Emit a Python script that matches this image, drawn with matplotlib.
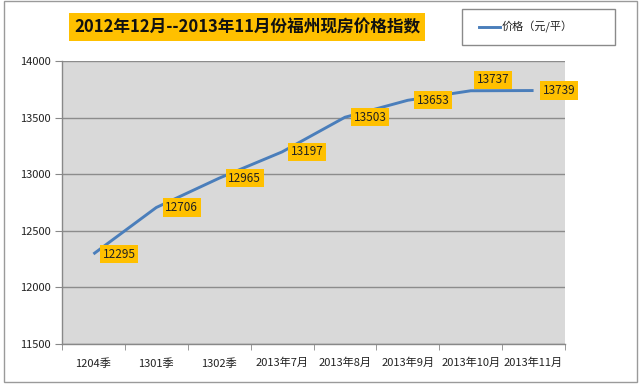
import matplotlib
matplotlib.use("Agg")
import matplotlib.pyplot as plt
from matplotlib.patches import Rectangle
from matplotlib.lines import Line2D

plt.rcParams['font.family'] = ['Noto Sans CJK SC', 'DejaVu Sans']

categories = ['1204季', '1301季', '1302季', '2013年7月', '2013年8月', '2013年9月', '2013年10月', '2013年11月']
values = [12295, 12706, 12965, 13197, 13503, 13653, 13737, 13739]
yticks = [11500, 12000, 12500, 13000, 13500, 14000]
title = '2012年12月--2013年11月份福州现房价格指数'
legend_label = '价格（元/平）'

W, H = 640, 385
fig = plt.figure(figsize=(W / 100, H / 100), dpi=100)
fig.patch.set_facecolor('white')

def fx(x):
    return x / W

def fy(y):
    return 1 - y / H

# outer chart frame
fig.patches.append(Rectangle((fx(4), fy(382)), fx(637) - fx(4), fy(1) - fy(382),
                             transform=fig.transFigure, fill=False, edgecolor='#9a9a9a', lw=1.0))

ax = fig.add_axes([fx(62), fy(344), fx(565) - fx(62), fy(61) - fy(344)])
ax.set_facecolor('#D9D9D9')
x = list(range(len(categories)))
ax.plot(x, values, color='#4A7EBB', lw=2.1, solid_capstyle='butt', zorder=3)
ax.set_xlim(-0.5, len(categories) - 0.5)
ax.set_ylim(yticks[0], yticks[-1])
ax.set_yticks(yticks)
ax.set_yticklabels([str(v) for v in yticks], fontsize=8, color='#222222')
ax.set_xticks(x)
ax.set_xticklabels(categories, fontsize=8, color='#222222')
ax.set_xticks([i - 0.5 for i in range(len(categories) + 1)], minor=True)
ax.tick_params(axis='x', which='major', length=0, pad=10)
ax.tick_params(axis='x', which='minor', length=4, color='#888888', direction='out')
ax.tick_params(axis='y', length=5, color='#888888', direction='out', pad=3)
ax.grid(axis='y', color='#8C8C8C', lw=1.0, zorder=1)
ax.set_axisbelow(True)
for s in ['top', 'right']:
    ax.spines[s].set_visible(False)
for s in ['left', 'bottom']:
    ax.spines[s].set_color('#888888')
    ax.spines[s].set_linewidth(1.0)

offsets = [(9, 0), (9, 0), (9, 0), (9, 0), (9, 0), (9, 0), (6, 11), (9, 0)]
for xi, v, (dx, dy) in zip(x, values, offsets):
    ax.annotate(str(v), (xi, v), xytext=(dx, dy), textcoords='offset pixels',
                ha='left', va='center', fontsize=8.5, color='#222222', zorder=5,
                bbox=dict(boxstyle='square,pad=0.22', fc='#FFC000', ec='none'))

# title
fig.text(fx(247), fy(27), title, ha='center', va='center', fontsize=12, fontweight='bold',
         color='#111111',
         bbox=dict(boxstyle='square,pad=0.3', fc='#FFC000', ec='none'))

# legend box
fig.patches.append(Rectangle((fx(462), fy(45)), fx(615) - fx(462), fy(9) - fy(45),
                             transform=fig.transFigure, fill=True, facecolor='white',
                             edgecolor='#8a8a8a', lw=1.0))
fig.lines.append(Line2D([fx(479), fx(500)], [fy(27), fy(27)], transform=fig.transFigure,
                        color='#4A7EBB', lw=2.1))
fig.text(fx(502), fy(27), legend_label, ha='left', va='center', fontsize=8, color='#222222')

fig.savefig('out.png', dpi=100)
